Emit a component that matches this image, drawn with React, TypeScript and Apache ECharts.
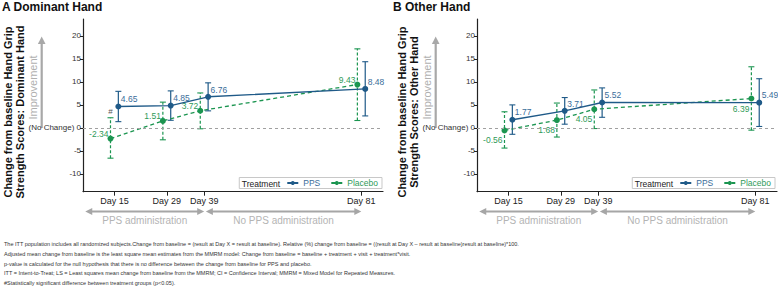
import React, { useEffect, useRef } from "react";
import * as echarts from "echarts";

// ---------- data ----------
const visitDays = [15, 29, 39, 81];
const tickDays = [15, 29, 39, 81];
const yTicks = [-10, -5, 0, 5, 10, 15, 20];
const dodge = 1.05;

// Panel A: Dominant hand
const domPPS = [4.65, 4.85, 6.76, 8.48];
const domPPSLow = [1.35, 1.65, 3.7, 2.6];
const domPPSHigh = [7.95, 8.05, 9.8, 14.4];
const domPlacebo = [-2.34, 1.51, 3.72, 9.43];
const domPlaceboLow = [-6.6, -2.6, -0.2, 1.6];
const domPlaceboHigh = [2.2, 5.6, 7.6, 17.2];
const domSignificant = [1, 0, 0, 0];

// Panel B: Other hand
const othPPS = [1.77, 3.71, 5.52, 5.49];
const othPPSLow = [-1.4, 0.8, 2.3, 0.3];
const othPPSHigh = [5.0, 6.6, 8.7, 10.7];
const othPlacebo = [-0.56, 1.68, 4.05, 6.39];
const othPlaceboLow = [-4.4, -2.0, -0.15, -0.5];
const othPlaceboHigh = [3.5, 5.4, 8.25, 13.3];
const othSignificant = [0, 0, 0, 0];

const panelTitles = ["A Dominant Hand", "B Other Hand"];
const yTitles = [
  "Change from baseline Hand Grip\nStrength Scores: Dominant Hand",
  "Change from baseline Hand Grip\nStrength Scores: Other Hand",
];
const periodLabels = ["PPS administration", "No PPS administration"];
const periodStart = [7.2, 39.45];
const periodEnd = [39, 81];

const footnotes = [
  "The ITT population includes all randomized subjects.Change from baseline = (result at Day X = result at baseline). Relative (%) change from baseline = ((result at Day X \u2013 result at baseline)result at baseline)*100.",
  "Adjusted mean change from baseline is the least square mean estimates from the MMRM model: Change from baseline = baseline + treatment + visit + treatment*visit.",
  "p-value is calculated for the null hypothesis that there is no difference between the change from baseline for PPS and placebo.",
  "ITT = Intent-to-Treat; LS = Least squares mean change from baseline from the MMRM; CI = Confidence Interval; MMRM = Mixed Model for Repeated Measures.",
  "#Statistically significant difference between treatment groups (p<0.05).",
];

// ---------- style ----------
const FONT = "'Liberation Sans', Arial, sans-serif";
const PPS_COLOR = "#1f5a88";
const PPS_LABEL = "#3a6d9a";
const PLA_COLOR = "#1b9550";
const PLA_LABEL = "#2f9a58";
const GRAY = "#a8a8a8";
const X_MIN = 6.6;
const X_MAX = 86.8;
const Y_MIN = -13.9;
const Y_MAX = 23.7;
const GRID_LEFT = [83, 477];
const GRID_TOP = 19;
const GRID_W = 300;
const GRID_H = 172.7;

function errorRender(color: string, dashed: boolean) {
  return (params: any, api: any) => {
    const x = api.value(0);
    const lo = api.coord([x, api.value(1)]);
    const hi = api.coord([x, api.value(2)]);
    const cap = 3;
    const children: any[] = [
      {
        type: "line",
        shape: { x1: lo[0], y1: lo[1], x2: hi[0], y2: hi[1] },
        style: { stroke: color, lineWidth: 1.2, lineDash: dashed ? [3, 2] : null },
      },
      {
        type: "line",
        shape: { x1: lo[0] - cap, y1: lo[1], x2: lo[0] + cap, y2: lo[1] },
        style: { stroke: color, lineWidth: 1.1 },
      },
      {
        type: "line",
        shape: { x1: hi[0] - cap, y1: hi[1], x2: hi[0] + cap, y2: hi[1] },
        style: { stroke: color, lineWidth: 1.1 },
      },
    ];
    if (api.value(3)) {
      children.push({
        type: "text",
        x: hi[0],
        y: hi[1] - 6,
        style: { text: "#", fill: "#555", fontSize: 8, align: "center", verticalAlign: "middle", fontFamily: FONT },
      });
    }
    return { type: "group", children };
  };
}

function panelSeries(
  g: number,
  pps: number[], ppsLo: number[], ppsHi: number[],
  pla: number[], plaLo: number[], plaHi: number[], sig: number[],
  plaOffset: number[]
) {
  return [
    {
      type: "custom",
      name: "Placebo CI",
      xAxisIndex: g,
      yAxisIndex: g,
      z: 2,
      silent: true,
      renderItem: errorRender(PLA_COLOR, true),
      data: visitDays.map((d, k) => [d - dodge, plaLo[k], plaHi[k], sig[k]]),
      markLine: {
        silent: true,
        symbol: "none",
        label: { show: false },
        lineStyle: { color: "#a0a0a0", type: [3, 3], width: 1 },
        data: [{ yAxis: 0 }],
      },
    },
    {
      type: "custom",
      name: "PPS CI",
      xAxisIndex: g,
      yAxisIndex: g,
      z: 2,
      silent: true,
      renderItem: errorRender(PPS_COLOR, false),
      data: visitDays.map((d, k) => [d + dodge, ppsLo[k], ppsHi[k], 0]),
    },
    {
      type: "line",
      name: "Placebo",
      xAxisIndex: g,
      yAxisIndex: g,
      z: 3,
      symbol: "circle",
      symbolSize: 6,
      itemStyle: { color: PLA_COLOR },
      lineStyle: { color: PLA_COLOR, width: 1.3, type: [4, 3] },
      label: {
        show: true,
        position: "left",
        distance: 0,
        offset: plaOffset,
        fontSize: 8.5,
        color: PLA_LABEL,
        fontFamily: FONT,
        formatter: (p: any) => p.value[1].toFixed(2),
      },
      data: visitDays.map((d, k) => [d - dodge, pla[k]]),
    },
    {
      type: "line",
      name: "PPS",
      xAxisIndex: g,
      yAxisIndex: g,
      z: 4,
      symbol: "circle",
      symbolSize: 6,
      itemStyle: { color: PPS_COLOR },
      lineStyle: { color: PPS_COLOR, width: 1.4 },
      label: {
        show: true,
        position: "right",
        distance: 0,
        offset: [-0.5, -7.3],
        fontSize: 8.5,
        color: PPS_LABEL,
        fontFamily: FONT,
        formatter: (p: any) => p.value[1].toFixed(2),
      },
      data: visitDays.map((d, k) => [d + dodge, pps[k]]),
    },
  ];
}

const LEGEND_RIGHT = [396, 3];

function buildOption() {
  const grids = [0, 1].map((g) => ({
    left: GRID_LEFT[g],
    top: GRID_TOP,
    width: GRID_W,
    height: GRID_H,
    outerBoundsMode: "none",
  }));
  const xAxes = [0, 1].map((g) => ({
    type: "value",
    gridIndex: g,
    min: X_MIN,
    max: X_MAX,
    splitLine: { show: false },
    axisLine: { onZero: false, lineStyle: { color: "#222", width: 1.2 } },
    axisTick: { customValues: tickDays, length: 4, lineStyle: { color: "#222" } },
    axisLabel: {
      customValues: tickDays,
      formatter: (v: number) => "Day " + v,
      fontSize: 9,
      color: "#222",
      margin: 5,
      fontFamily: FONT,
    },
  }));
  const yAxes = [0, 1].map((g) => ({
    type: "value",
    gridIndex: g,
    min: Y_MIN,
    max: Y_MAX,
    splitLine: { show: false },
    axisLine: { show: true, onZero: false, lineStyle: { color: "#222", width: 1.2 } },
    axisTick: { show: true, customValues: yTicks, length: 3, lineStyle: { color: "#222" } },
    axisLabel: {
      customValues: yTicks,
      formatter: (v: number) => (v === 0 ? "(No Change) 0" : String(v)),
      fontSize: 8,
      color: "#333",
      margin: 2,
      fontFamily: FONT,
    },
  }));
  const legends = [0, 1].map((g) => ({
    right: LEGEND_RIGHT[g],
    top: 177.5,
    orient: "horizontal",
    padding: [1, 4, 1, 47],
    itemGap: 10,
    itemWidth: 11,
    itemHeight: 5,
    borderColor: "#c8c8c8",
    borderWidth: 1,
    backgroundColor: "#fff",
    selectedMode: false,
    textStyle: { fontSize: 8.5, fontFamily: FONT, padding: [0, 0, 0, 0] },
    data: [
      { name: "PPS", textStyle: { color: PPS_LABEL } },
      { name: "Placebo", textStyle: { color: PLA_LABEL } },
    ],
  }));

  return {
    animation: false,
    backgroundColor: "#fff",
    textStyle: { fontFamily: FONT },
    grid: grids,
    xAxis: xAxes,
    yAxis: yAxes,
    legend: legends,
    series: [
      ...panelSeries(0, domPPS, domPPSLow, domPPSHigh, domPlacebo, domPlaceboLow, domPlaceboHigh, domSignificant, [1, -4.5]),
      ...panelSeries(1, othPPS, othPPSLow, othPPSHigh, othPlacebo, othPlaceboLow, othPlaceboHigh, othSignificant, [1, 10]),
    ],
  };
}

function hArrow(x1: number, x2: number, y: number, color: string) {
  const head = 7;
  const hw = 3.5;
  return [
    { type: "line", silent: true, shape: { x1: x1 + 3, y1: y, x2: x2 - 3, y2: y }, style: { stroke: color, lineWidth: 2.2 } },
    { type: "polygon", silent: true, shape: { points: [[x1, y], [x1 + head, y - hw], [x1 + head, y + hw]] }, style: { fill: color } },
    { type: "polygon", silent: true, shape: { points: [[x2, y], [x2 - head, y - hw], [x2 - head, y + hw]] }, style: { fill: color } },
  ];
}

export default function App() {
  const ref = useRef<HTMLDivElement>(null);
  useEffect(() => {
    if (!ref.current) return;
    const chart = echarts.init(ref.current, null, { renderer: "svg" });
    chart.setOption(buildOption() as any);

    const graphics: any[] = [];
    // measure legend boxes to place the "Treatment" title inside them
    const legendLeft: number[] = [GRID_LEFT[0] + 159, GRID_LEFT[1] + 155];
    try {
      const comps = (chart as any).getModel().getComponent ? [0, 1].map((i) => (chart as any).getModel().getComponent("legend", i)) : [];
      comps.forEach((m: any, i: number) => {
        const view = (chart as any).getViewOfComponentModel(m);
        if (view && view.group) {
          const r = view.group.getBoundingRect();
          legendLeft[i] = view.group.x + r.x;
        }
      });
    } catch (e) {}

    for (let g = 0; g < 2; g++) {
      const axisX = GRID_LEFT[g];
      graphics.push({
        type: "text",
        silent: true,
        x: g === 0 ? 2 : 393,
        y: 7,
        style: { text: panelTitles[g], fontSize: 12, fontWeight: "bold", fill: "#111", align: "left", verticalAlign: "middle", fontFamily: FONT },
      });
      graphics.push({
        type: "text",
        silent: true,
        x: axisX - 69.5,
        y: 112,
        rotation: Math.PI / 2,
        style: {
          text: yTitles[g],
          fontSize: 11,
          fontWeight: "bold",
          lineHeight: 12,
          fill: "#111",
          align: "center",
          verticalAlign: "middle",
          fontFamily: FONT,
        },
      });
      // improvement arrow
      const ax = axisX - 41.3;
      graphics.push({ type: "line", silent: true, shape: { x1: ax, y1: 128, x2: ax, y2: 42 }, style: { stroke: GRAY, lineWidth: 2.2 } });
      graphics.push({ type: "polygon", silent: true, shape: { points: [[ax, 36.5], [ax - 3.8, 44], [ax + 3.8, 44]] }, style: { fill: GRAY } });
      graphics.push({
        type: "text",
        silent: true,
        x: axisX - 50,
        y: 87.5,
        rotation: Math.PI / 2,
        style: { text: "Improvement", fontSize: 11, fill: "#b0b0b0", align: "center", verticalAlign: "middle", fontFamily: FONT },
      });
      // legend title
      graphics.push({
        type: "text",
        silent: true,
        x: legendLeft[g] + 3,
        y: 183.5,
        z: 100,
        style: { text: "Treatment", fontSize: 8.5, fill: "#222", align: "left", verticalAlign: "middle", fontFamily: FONT },
      });
      // administration period arrows
      for (let p = 0; p < periodLabels.length; p++) {
        const x1 = chart.convertToPixel({ xAxisIndex: g } as any, periodStart[p]) as unknown as number;
        const x2 = chart.convertToPixel({ xAxisIndex: g } as any, periodEnd[p]) as unknown as number;
        graphics.push(...hArrow(x1, x2, 211.5, "#a6a6a6"));
        graphics.push({
          type: "text",
          silent: true,
          x: (x1 + x2) / 2,
          y: 220.5,
          style: { text: periodLabels[p], fontSize: 10, fill: "#b4b4b4", align: "center", verticalAlign: "middle", fontFamily: FONT },
        });
      }
    }
    footnotes.forEach((t, i) => {
      graphics.push({
        type: "text",
        silent: true,
        x: 4,
        y: 244 + i * 9.8,
        style: { text: t, fontSize: 5.5, fill: "#333", align: "left", verticalAlign: "middle", fontFamily: FONT },
      });
    });
    chart.setOption({ graphic: graphics });
    return () => chart.dispose();
  }, []);
  return (
    <div
      ref={ref}
      style={{ position: "fixed", left: 0, top: 0, width: 778, height: 295, background: "#fff" }}
    />
  );
}
